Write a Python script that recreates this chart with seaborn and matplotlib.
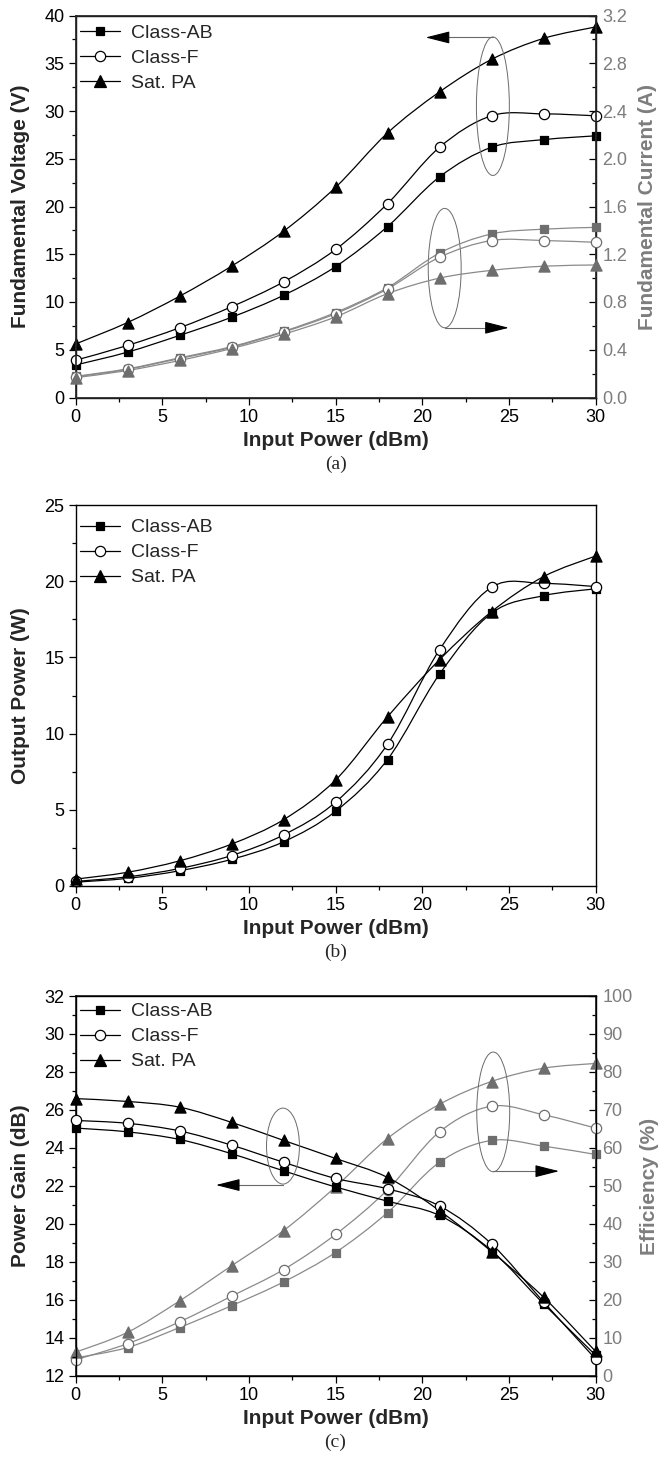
import numpy as np
import pandas as pd
import matplotlib
matplotlib.use("Agg")
import matplotlib.pyplot as plt
import seaborn as sns
from matplotlib.path import Path
from matplotlib.patches import PathPatch, Ellipse
from matplotlib.lines import Line2D
from matplotlib.ticker import MultipleLocator, FormatStrFormatter

sns.set_theme(style="ticks")
plt.rcParams["font.family"] = ["Liberation Sans", "DejaVu Sans"]

# ---------------- data ----------------
input_power = [0, 3, 6, 9, 12, 15, 18, 21, 24, 27, 30]
series_names = ["Class-AB", "Class-F", "Sat. PA"]

# (a) fundamental voltage (V) and current (A)
volt_ab = [3.4, 4.75, 6.5, 8.4, 10.7, 13.7, 17.9, 23.1, 26.2, 27.0, 27.4]
volt_f = [3.9, 5.45, 7.3, 9.5, 12.1, 15.5, 20.3, 26.2, 29.5, 29.7, 29.5]
volt_sat = [5.6, 7.85, 10.6, 13.75, 17.4, 22.0, 27.7, 32.0, 35.4, 37.6, 38.8]
curr_ab = [0.177, 0.24, 0.332, 0.426, 0.554, 0.712, 0.92, 1.21, 1.37, 1.41, 1.425]
curr_f = [0.172, 0.236, 0.326, 0.42, 0.548, 0.702, 0.91, 1.175, 1.315, 1.315, 1.30]
curr_sat = [0.166, 0.226, 0.31, 0.41, 0.53, 0.675, 0.87, 1.0, 1.065, 1.10, 1.11]

# (b) output power (W)
pout_ab = [0.25, 0.5, 1.0, 1.75, 2.9, 4.9, 8.3, 13.9, 17.9, 19.05, 19.5]
pout_f = [0.3, 0.6, 1.15, 2.0, 3.35, 5.5, 9.3, 15.5, 19.6, 19.85, 19.65]
pout_sat = [0.45, 0.9, 1.65, 2.75, 4.35, 6.95, 11.1, 14.85, 18.0, 20.3, 21.65]

# (c) power gain (dB) and efficiency (%)
gain_ab = [25.05, 24.85, 24.45, 23.7, 22.8, 21.95, 21.2, 20.45, 18.6, 15.8, 13.1]
gain_f = [25.45, 25.3, 24.9, 24.15, 23.25, 22.4, 21.85, 20.95, 18.95, 15.9, 12.9]
gain_sat = [26.6, 26.45, 26.15, 25.35, 24.4, 23.45, 22.45, 20.7, 18.55, 16.15, 13.3]
eff_ab = [4.75, 7.5, 12.75, 18.5, 24.75, 32.5, 43.0, 56.25, 62.0, 60.5, 58.3]
eff_f = [4.25, 8.5, 14.25, 21.0, 28.0, 37.25, 49.0, 64.25, 71.0, 68.75, 65.25]
eff_sat = [6.25, 11.5, 19.75, 29.0, 38.25, 49.75, 62.5, 71.5, 77.5, 81.0, 82.25]

# ---------------- style ----------------
BLACK = "#000000"
GRAY_LINE = "#8a8a8a"
GRAY_MARK = "#6e6e6e"
GRAY_TEXT = "#7d7d7d"
ANNOT = "#6a6a6a"
TICK_FS = 13
LEGEND_FS = 14
LABEL_FS = 15

marker_of = {"Class-AB": "s", "Class-F": "o", "Sat. PA": "^"}
size_of = {"s": 5.6, "o": 7.4, "^": 8.0}


def smooth_path(xs, ys):
    """Cubic Bezier path passing through every point (Catmull-Rom tangents)."""
    pts = np.column_stack([xs, ys]).astype(float)
    ext = np.vstack([pts[0], pts, pts[-1]])
    verts = [pts[0]]
    codes = [Path.MOVETO]
    for i in range(len(pts) - 1):
        p0, p1, p2, p3 = ext[i], ext[i + 1], ext[i + 2], ext[i + 3]
        verts += [p1 + (p2 - p0) / 6.0, p2 - (p3 - p1) / 6.0, p2]
        codes += [Path.CURVE4] * 3
    return Path(verts, codes)


def draw_series(ax, y, name, gray=False):
    line_c = GRAY_LINE if gray else BLACK
    mark_c = GRAY_MARK if gray else BLACK
    m = marker_of[name]
    ax.add_patch(PathPatch(smooth_path(input_power, y), fill=False,
                           edgecolor=line_c, lw=0.9, zorder=2))
    face = "white" if m == "o" else mark_c
    df = pd.DataFrame({"pin": input_power, "val": y})
    sns.scatterplot(data=df, x="pin", y="val", ax=ax, marker=m,
                    s=size_of[m] ** 2, color=face, edgecolor=mark_c,
                    linewidth=0.9, zorder=3, clip_on=False, legend=False)


def style_left(ax, ymin, ymax, major, minor, ylabel):
    ax.set_xlim(0, 30)
    ax.set_ylim(ymin, ymax)
    ax.xaxis.set_major_locator(MultipleLocator(5))
    ax.xaxis.set_minor_locator(MultipleLocator(2.5))
    ax.yaxis.set_major_locator(MultipleLocator(major))
    ax.yaxis.set_minor_locator(MultipleLocator(minor))
    ax.tick_params(axis="both", which="both", direction="out", top=False,
                   right=False, color=BLACK, width=0.9, labelcolor=BLACK)
    ax.tick_params(which="major", length=5, labelsize=TICK_FS, pad=3)
    ax.tick_params(which="minor", length=2.6)
    for sp in ax.spines.values():
        sp.set_visible(True)
        sp.set_linewidth(1.0)
        sp.set_color(BLACK)
    ax.grid(False)
    ax.set_xlabel("Input Power (dBm)", fontsize=LABEL_FS, fontweight="bold")
    ax.xaxis.set_label_coords(0.5, -0.087)
    ax.set_ylabel(ylabel, fontsize=LABEL_FS, fontweight="bold")
    ax.yaxis.set_label_coords(-0.088, 0.5)


def style_right(ax2, ymax, major, minor, fmt, ylabel, xlab):
    ax2.set_ylim(0, ymax)
    ax2.yaxis.set_major_locator(MultipleLocator(major))
    ax2.yaxis.set_minor_locator(MultipleLocator(minor))
    ax2.yaxis.set_major_formatter(FormatStrFormatter(fmt))
    ax2.tick_params(axis="y", which="both", direction="in", right=True,
                    left=False, color=BLACK, width=0.9, labelcolor=GRAY_TEXT)
    ax2.tick_params(axis="y", which="major", length=5, labelsize=TICK_FS, pad=5)
    ax2.tick_params(axis="y", which="minor", length=2.6)
    ax2.set_ylabel(ylabel, fontsize=LABEL_FS, fontweight="bold", color=GRAY_TEXT)
    ax2.yaxis.set_label_coords(xlab, 0.5)
    ax2.set_xlabel("")
    ax2.grid(False)


def add_legend(ax, top_offset_px, ax_h_px):
    handles = []
    for name in series_names:
        m = marker_of[name]
        handles.append(Line2D([], [], color=BLACK, lw=0.9, marker=m,
                              markersize=size_of[m],
                              markerfacecolor="white" if m == "o" else BLACK,
                              markeredgecolor=BLACK, markeredgewidth=0.9))
    ax.legend(handles, series_names, loc="upper left",
              bbox_to_anchor=(0.008, 1 - top_offset_px / ax_h_px),
              frameon=False, fontsize=LEGEND_FS, borderaxespad=0, borderpad=0,
              handlelength=2.05, handletextpad=0.6, labelspacing=0.38)


def pointer(ax, cx, cy, w, h, y_line, x_start, tip, direction):
    ax.add_patch(Ellipse((cx, cy), w, h, fill=False, edgecolor=ANNOT,
                         lw=0.7, zorder=4))
    head = 1.2
    base = tip - direction * head
    ax.plot([x_start, base], [y_line, y_line], color=ANNOT, lw=0.8, zorder=4)
    ax.annotate("", xy=(tip, y_line), xytext=(base, y_line),
                arrowprops=dict(arrowstyle="-|>,head_length=1.5,head_width=0.38",
                                color=BLACK, lw=0.8, shrinkA=0, shrinkB=0,
                                mutation_scale=10), zorder=5)


def caption(ax, text):
    ax.text(0.5, -0.174, text, transform=ax.transAxes, ha="center",
            va="center", fontsize=14, family=["Liberation Serif", "DejaVu Serif"])


# ---------------- figure ----------------
FIG_W, FIG_H = 658, 1461
fig = plt.figure(figsize=(FIG_W / 100, FIG_H / 100), dpi=100)
LEFT, RIGHT = 75.5, 595.5


def new_axes(top_px, bottom_px):
    return fig.add_axes([LEFT / FIG_W, 1 - bottom_px / FIG_H,
                         (RIGHT - LEFT) / FIG_W, (bottom_px - top_px) / FIG_H])


# (a) fundamental voltage / current
ax_a = new_axes(15.5, 397.5)
ax_a2 = ax_a.twinx()
for name, v, c in zip(series_names, [volt_ab, volt_f, volt_sat],
                      [curr_ab, curr_f, curr_sat]):
    draw_series(ax_a, v, name)
    draw_series(ax_a2, c, name, gray=True)
style_left(ax_a, 0, 40, 5, 2.5, "Fundamental Voltage (V)")
style_right(ax_a2, 3.2, 0.4, 0.2, "%.1f", "Fundamental Current (A)", 1.082)
add_legend(ax_a, 8.5, 382)
pointer(ax_a, 24.08, 30.5, 1.9, 14.5, 37.7, 24.08, 20.2, -1)
pointer(ax_a, 21.3, 13.55, 1.9, 12.5, 7.3, 21.3, 25.0, 1)
caption(ax_a, "(a)")

# (b) output power
ax_b = new_axes(505, 886)
for name, p in zip(series_names, [pout_ab, pout_f, pout_sat]):
    draw_series(ax_b, p, name)
style_left(ax_b, 0, 25, 5, 2.5, "Output Power (W)")
add_legend(ax_b, 13.7, 381)
caption(ax_b, "(b)")

# (c) power gain / efficiency
ax_c = new_axes(996, 1376)
ax_c2 = ax_c.twinx()
for name, g, e in zip(series_names, [gain_ab, gain_f, gain_sat],
                      [eff_ab, eff_f, eff_sat]):
    draw_series(ax_c2, e, name, gray=True)
    draw_series(ax_c, g, name)
ax_c.set_zorder(ax_c2.get_zorder() + 1)
ax_c.patch.set_visible(False)
style_left(ax_c, 12, 32, 2, 1, "Power Gain (dB)")
style_right(ax_c2, 100, 10, 5, "%d", "Efficiency (%)", 1.086)
add_legend(ax_c, 6.7, 380)
pointer(ax_c, 11.97, 24.1, 1.9, 4.0, 22.05, 11.97, 8.1, -1)
pointer(ax_c, 24.1, 25.9, 1.9, 6.3, 22.78, 24.1, 27.9, 1)
caption(ax_c, "(c)")

fig.savefig("out.png", dpi=100)
